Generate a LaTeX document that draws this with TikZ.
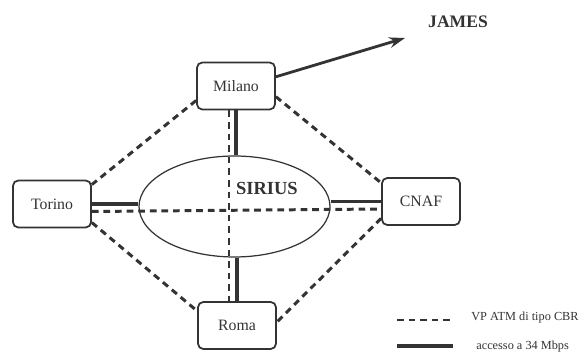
\documentclass[tikz,border=0pt]{standalone}
\usepackage{fontspec}
\setmainfont{Liberation Serif}
\usetikzlibrary{shapes.geometric, arrows.meta}
\definecolor{ink}{gray}{0.2}

\begin{document}
\begin{tikzpicture}[x=0.02cm, y=-0.02cm,
		site/.style={draw=ink, line width=1pt, rounded corners=3pt, minimum width=1.56cm,
			minimum height=0.94cm, inner sep=0pt, text=ink, font=\fontsize{9}{10}\selectfont},
		vp/.style={draw=ink, line width=1.7pt, dash pattern=on 3.8pt off 2.8pt},
		acc/.style={draw=ink, line width=1.8pt},
		legendtxt/.style={anchor=west, inner sep=0pt, text=ink, font=\fontsize{7}{8}\selectfont}]
		\useasboundingbox (0,0) rectangle (585,357);

		%% backbone
		\node[ellipse, draw=ink, line width=0.7pt, minimum width=3.82cm, minimum height=2.02cm] (sirius) at (234.5,206.5) {};
		\node[text=ink, font=\fontsize{10.5}{12}\selectfont\bfseries] (siriuslbl) at (267,188) {SIRIUS};

		%% sites
		\node[site] (milano) at (236,86) {Milano};
		\node[site] (torino) at (52,204) {Torino};
		\node[site] (cnaf) at (421,201.5) {CNAF};
		\node[site] (roma) at (237,325.5) {Roma};

		% access links
		\draw[acc] (torino.east) -- (torino.east -| sirius.west);
		\draw[acc] (cnaf.west) -- (cnaf.west -| sirius.east);
		\draw[acc] (milano.south) -- (sirius.north -| milano.south);
		\draw[acc] (roma.north) -- (sirius.south -| roma.north);

		% virtual paths
		\draw[vp] ([yshift=-0.15cm]torino.east) -- ([yshift=-0.15cm]cnaf.west);
		\draw[vp] ([xshift=-0.14cm]milano.south) -- ([xshift=-0.16cm]roma.north);
		\draw[vp] (milano.200) -- (torino.26);
		\draw[vp] (milano.-15) -- (cnaf.155);
		\draw[vp] (torino.-25) -- (roma.160);
		\draw[vp] (cnaf.203) -- (roma.5);

		% link to JAMES
		\coordinate (jamestip) at (405,38);
		\draw[ink, line width=1.6pt, -{Stealth[length=9pt, width=6pt]}] (milano.13) -- (jamestip);
		\node[text=ink, font=\fontsize{10}{11}\selectfont\bfseries] (james) at (458,22) {JAMES};

		%% legend
		\coordinate (vpa) at (397,320);
		\coordinate (vpb) at (453,320);
		\coordinate (acca) at (397,346);
		\coordinate (accb) at (453,346);
		\draw[vp] (vpa) -- (vpb);
		\draw[acc] (acca) -- (accb);
		\node[legendtxt] (vplbl) at (471,318) {VP ATM di tipo CBR};
		\node[legendtxt] (acclbl) at (476,347) {accesso a 34 Mbps};
\end{tikzpicture}
\end{document}
